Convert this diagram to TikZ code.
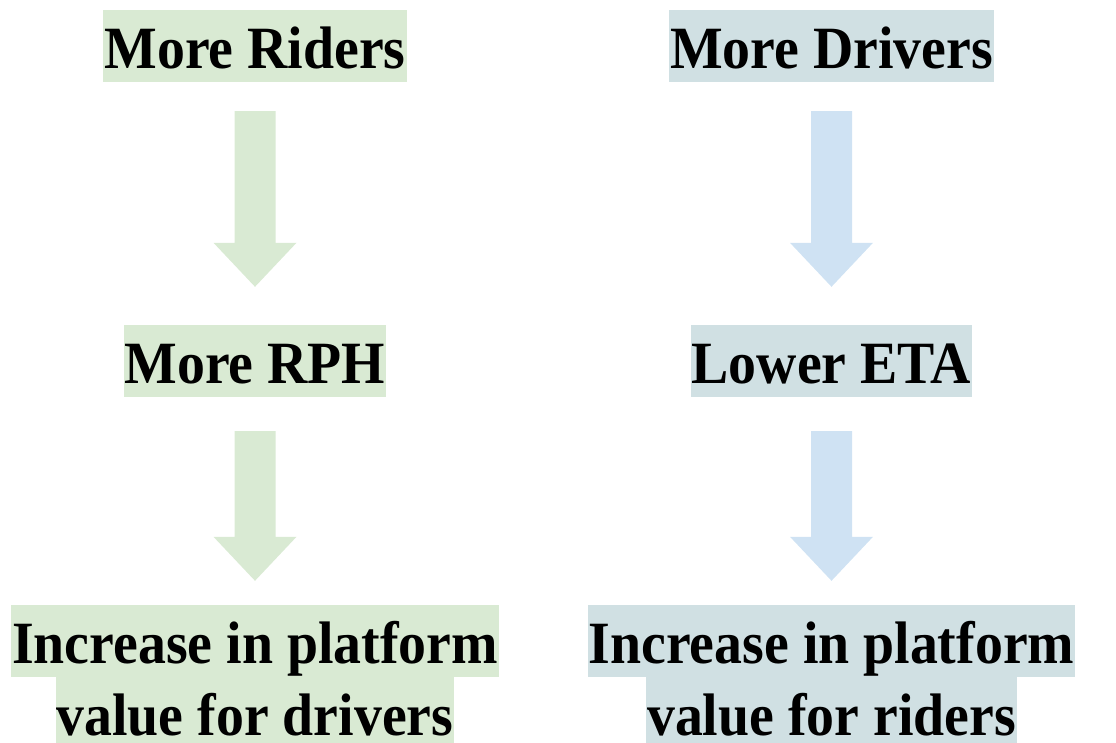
\documentclass[tikz,border=0pt]{standalone}
\usepackage{fontspec}
\setmainfont[FakeStretch=0.93]{Liberation Serif}
\usetikzlibrary{calc}
\definecolor{hlgreen}{HTML}{D9EAD3}
\definecolor{hlcyan}{HTML}{D0E0E3}
\definecolor{arblue}{HTML}{CFE2F3}
\newcommand{\bigarr}[5]{%
  \fill[#1] let \p1=(#2.south), \p2=(#3.north) in
    (\x1-20.5pt,\y1-#4) -- (\x1+20.5pt,\y1-#4) -- (\x1+20.5pt,\y2+#5+44pt)
    -- (\x1+41.5pt,\y2+#5+44pt) -- (\x1,\y2+#5) -- (\x1-41.5pt,\y2+#5+44pt)
    -- (\x1-20.5pt,\y2+#5+44pt) -- cycle;}
\begin{document}
\begin{tikzpicture}[x=1pt,y=1pt,
  lbl/.style={anchor=base, inner xsep=1pt, inner ysep=0pt, text height=58pt, text depth=14pt,
    font=\fontsize{60}{64}\selectfont\bfseries, text=black},
  gbox/.style={lbl, fill=hlgreen},
  cbox/.style={lbl, fill=hlcyan}]
\useasboundingbox (0,0) rectangle (1116,-742);
% left column
\node[gbox] (r1) at (255,-68) {More Riders};
\node[gbox] (r2) at (255,-383) {More RPH};
\node[gbox] (r3a) at (255,-663) {Increase in platform};
\node[gbox] (r3b) at (255,-735) {value for drivers};
% right column
\node[cbox] (d1) at (831.5,-68) {More Drivers};
\node[cbox] (d2) at (831.5,-383) {Lower ETA};
\node[cbox] (d3a) at (831.5,-663) {Increase in platform};
\node[cbox] (d3b) at (831.5,-735) {value for riders};
% arrows
\bigarr{hlgreen}{r1}{r2}{29pt}{38pt}
\bigarr{hlgreen}{r2}{r3a}{34pt}{24pt}
\bigarr{arblue}{d1}{d2}{29pt}{38pt}
\bigarr{arblue}{d2}{d3a}{34pt}{24pt}
\end{tikzpicture}
\end{document}
